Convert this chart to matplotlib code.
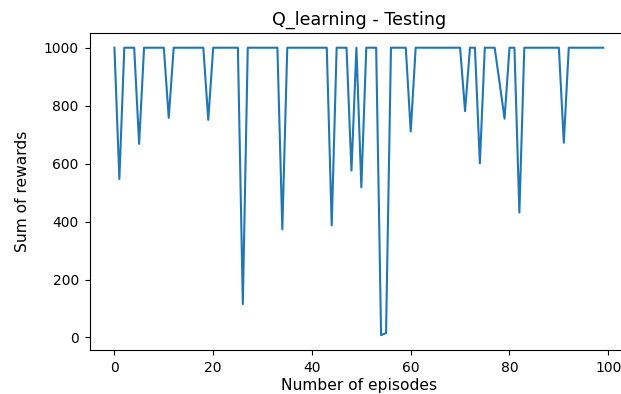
import matplotlib
matplotlib.use("Agg")
import matplotlib.pyplot as plt

# Reward obtained in each of the 100 test episodes
episodes = list(range(100))
rewards = [
    1000, 547, 1000, 1000, 1000, 668, 1000, 1000, 1000, 1000,
    1000, 758, 1000, 1000, 1000, 1000, 1000, 1000, 1000, 751,
    1000, 1000, 1000, 1000, 1000, 1000, 115, 1000, 1000, 1000,
    1000, 1000, 1000, 1000, 373, 1000, 1000, 1000, 1000, 1000,
    1000, 1000, 1000, 1000, 387, 1000, 1000, 1000, 576, 1000,
    518, 1000, 1000, 1000, 8, 15, 1000, 1000, 1000, 1000,
    711, 1000, 1000, 1000, 1000, 1000, 1000, 1000, 1000, 1000,
    1000, 781, 1000, 1000, 601, 1000, 1000, 1000, 878, 755,
    1000, 1000, 431, 1000, 1000, 1000, 1000, 1000, 1000, 1000,
    1000, 672, 1000, 1000, 1000, 1000, 1000, 1000, 1000, 1000,
]

title = "Q_learning - Testing"
xlabel = "Number of episodes"
ylabel = "Sum of rewards"

fig = plt.figure(figsize=(6.21, 3.94), dpi=100)
ax = fig.add_axes([0.1449, 0.1129, 0.866, 0.8025])
ax.plot(episodes, rewards, color="#1f77b4", linewidth=1.5)
ax.set_title(title, fontsize=12.6, pad=6)
ax.set_xlabel(xlabel, fontsize=11.2, labelpad=2.5)
ax.set_ylabel(ylabel, fontsize=11.2, labelpad=10)
ax.tick_params(labelsize=10, pad=4.5)

fig.savefig("out.png", dpi=100)
